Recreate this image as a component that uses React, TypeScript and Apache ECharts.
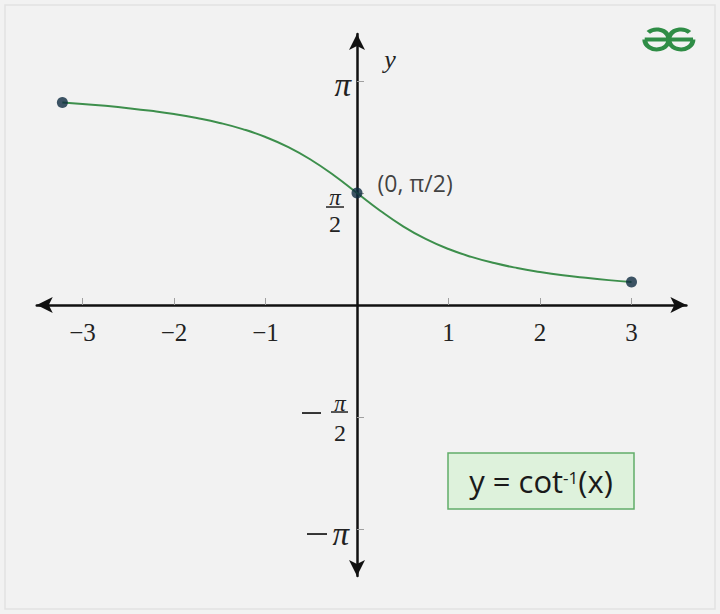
import React, { useEffect, useRef } from "react";
import * as echarts from "echarts";

// Curve samples (x, y)
const CURVE_X = [-3.22, -3, -2.75, -2.5, -2.25, -2, -1.75, -1.5, -1.25, -1, -0.75, -0.5, -0.25, 0, 0.25, 0.5, 0.75, 1, 1.25, 1.5, 1.75, 2, 2.25, 2.5, 2.75, 3];
const CURVE_Y = [2.84, 2.82, 2.793, 2.761, 2.723, 2.678, 2.622, 2.554, 2.467, 2.356, 2.214, 2.034, 1.816, 1.571, 1.326, 1.107, 0.927, 0.785, 0.675, 0.588, 0.519, 0.464, 0.418, 0.381, 0.349, 0.322];

// Highlighted points
const POINT_X = [-3.22, 0, 3];
const POINT_Y = [2.84, 1.571, 0.322];
const POINT_LABELS = ["", "(0, π/2)", ""];

// Axis ticks
const X_TICKS = [-3, -2, -1, 1, 2, 3];
const Y_TICKS = [-Math.PI, -Math.PI / 2, Math.PI / 2, Math.PI];

const LOGO_D =
  "M1.5 12 L43.5 12 M1.5 12 A10.5 10.5 0 1 0 4.58 4.58 M43.5 12 A10.5 10.5 0 1 1 40.42 4.58";

export default function App() {
  const ref = useRef<HTMLDivElement>(null);

  useEffect(() => {
    if (!ref.current) return;
    try {
      echarts.graphic.registerShape("logo", echarts.graphic.extendPath(LOGO_D, {}));
    } catch (e) {}
    const chart = echarts.init(ref.current, null, { renderer: "svg" });
    const serif = "Liberation Serif";
    const sans = "Open Sans";
    const axisLine = (w: number) => ({
      onZero: true,
      symbol: ["arrow", "arrow"],
      symbolSize: [12, 16],
      lineStyle: { color: "#111", width: w },
    });
    const pointLabel = {
      position: "right",
      offset: [10, -10],
      fontFamily: sans,
      fontSize: 23,
      color: "#111",
      textBorderWidth: 0,
    };

    chart.setOption({
      animation: false,
      backgroundColor: "#f2f2f2",
      grid: {
        left: 36.75,
        right: 33.6,
        top: 34.06,
        bottom: 38.04,
        containLabel: false,
        outerBoundsMode: "none",
      },
      xAxis: {
        type: "value",
        min: -3.5,
        max: 3.6,
        axisLine: axisLine(2.5),
        axisTick: {
          show: true,
          inside: true,
          length: 7,
          customValues: X_TICKS,
          lineStyle: { color: "#a0a0a0", width: 1 },
        },
        axisLabel: { show: false },
        splitLine: { show: false },
      },
      yAxis: {
        type: "value",
        min: -3.8,
        max: 3.8,
        axisLine: axisLine(2.5),
        axisTick: {
          show: true,
          inside: true,
          length: 7,
          customValues: Y_TICKS,
          lineStyle: { color: "#a0a0a0", width: 1 },
        },
        axisLabel: { show: false },
        splitLine: { show: false },
      },
      series: [
        {
          type: "line",
          data: CURVE_X.map((x, i) => [x, CURVE_Y[i]]),
          smooth: true,
          showSymbol: false,
          lineStyle: { color: "#3d8f4c", width: 2 },
          z: 3,
        },
        {
          type: "scatter",
          symbolSize: 11,
          itemStyle: { color: "#0e2b40" },
          z: 4,
          label: { show: false, ...pointLabel },
          data: POINT_X.map((x, i) => ({
            value: [x, POINT_Y[i]],
            label: {
              show: POINT_LABELS[i] !== "",
              formatter: POINT_LABELS[i],
              ...pointLabel,
            },
          })),
        },
      ],
    });

    const px = (x: number, y: number) => chart.convertToPixel({ gridIndex: 0 }, [x, y]) as number[];
    const o = px(0, 0);
    const ax = o[0];
    const ay = o[1];
    const yPi = px(0, Math.PI)[1];
    const yHalf = px(0, Math.PI / 2)[1];
    const yMHalf = px(0, -Math.PI / 2)[1];
    const yMPi = px(0, -Math.PI)[1];
    const piFont = (s: number) => `italic ${s}px "${serif}"`;
    const numFont = (s: number) => `${s}px "${serif}"`;

    const xLabels = X_TICKS.map((v) => ({
      type: "text",
      x: px(v, 0)[0],
      y: ay + 27,
      style: {
        text: v < 0 ? "\u2212" + Math.abs(v) : String(v),
        font: numFont(25),
        fill: "#222",
        align: "center",
        verticalAlign: "middle",
      },
    }));

    chart.setOption({
      graphic: [
        {
          type: "rect",
          z: -10,
          silent: true,
          shape: { x: 5, y: 5, width: 710, height: 604 },
          style: { fill: "none", stroke: "#e2e2e2", lineWidth: 1.5 },
        },
        ...xLabels,
        // y label
        {
          type: "text",
          x: ax + 33,
          y: px(0, 3.45)[1],
          style: { text: "y", font: piFont(26), fill: "#222", align: "center", verticalAlign: "middle" },
        },
        // π
        {
          type: "text",
          x: ax - 6,
          y: yPi + 4,
          style: { text: "π", font: piFont(33), fill: "#222", align: "right", verticalAlign: "middle" },
        },
        // π/2
        {
          type: "text",
          x: ax - 22,
          y: yHalf + 4,
          style: { text: "π", font: piFont(23), fill: "#222", align: "center", verticalAlign: "middle" },
        },
        {
          type: "line",
          shape: { x1: ax - 31, y1: yHalf + 14, x2: ax - 13, y2: yHalf + 14 },
          style: { stroke: "#222", lineWidth: 1.5 },
        },
        {
          type: "text",
          x: ax - 22,
          y: yHalf + 31,
          style: { text: "2", font: numFont(24), fill: "#222", align: "center", verticalAlign: "middle" },
        },
        // −π/2
        {
          type: "line",
          shape: { x1: ax - 55, y1: yMHalf - 4, x2: ax - 36, y2: yMHalf - 4 },
          style: { stroke: "#222", lineWidth: 1.8 },
        },
        {
          type: "text",
          x: ax - 17,
          y: yMHalf - 14,
          style: { text: "π", font: piFont(23), fill: "#222", align: "center", verticalAlign: "middle" },
        },
        {
          type: "line",
          shape: { x1: ax - 26, y1: yMHalf - 5, x2: ax - 9, y2: yMHalf - 5 },
          style: { stroke: "#222", lineWidth: 1.5 },
        },
        {
          type: "text",
          x: ax - 17,
          y: yMHalf + 16,
          style: { text: "2", font: numFont(24), fill: "#222", align: "center", verticalAlign: "middle" },
        },
        // −π
        {
          type: "line",
          shape: { x1: ax - 50, y1: yMPi + 5, x2: ax - 30, y2: yMPi + 5 },
          style: { stroke: "#222", lineWidth: 1.8 },
        },
        {
          type: "text",
          x: ax - 8,
          y: yMPi + 5,
          style: { text: "π", font: piFont(33), fill: "#222", align: "right", verticalAlign: "middle" },
        },
        // legend box
        {
          type: "rect",
          shape: { x: 448, y: 453, width: 186, height: 56 },
          style: { fill: "#def2dc", stroke: "#62ad6a", lineWidth: 1.5 },
        },
        {
          type: "text",
          x: 541,
          y: 481,
          style: {
            text: "{a|y = cot}{s|-1}{a|(x)}",
            align: "center",
            verticalAlign: "middle",
            rich: {
              a: { fontFamily: sans, fontSize: 31, fill: "#1a1a1a" },
              s: { fontFamily: sans, fontSize: 17, fill: "#1a1a1a", verticalAlign: "top", padding: [3, 0, 0, 0] },
            },
          },
        },
        // logo
        {
          type: "logo",
          x: 643,
          y: 28,
          scaleX: 1.15,
          scaleY: 0.95,
          style: { fill: "none", stroke: "#2f8d46", lineWidth: 4.2 },
        },
      ],
    });

    return () => chart.dispose();
  }, []);

  return (
    <div
      ref={ref}
      style={{ position: "fixed", left: 0, top: 0, width: 720, height: 614 }}
    />
  );
}
